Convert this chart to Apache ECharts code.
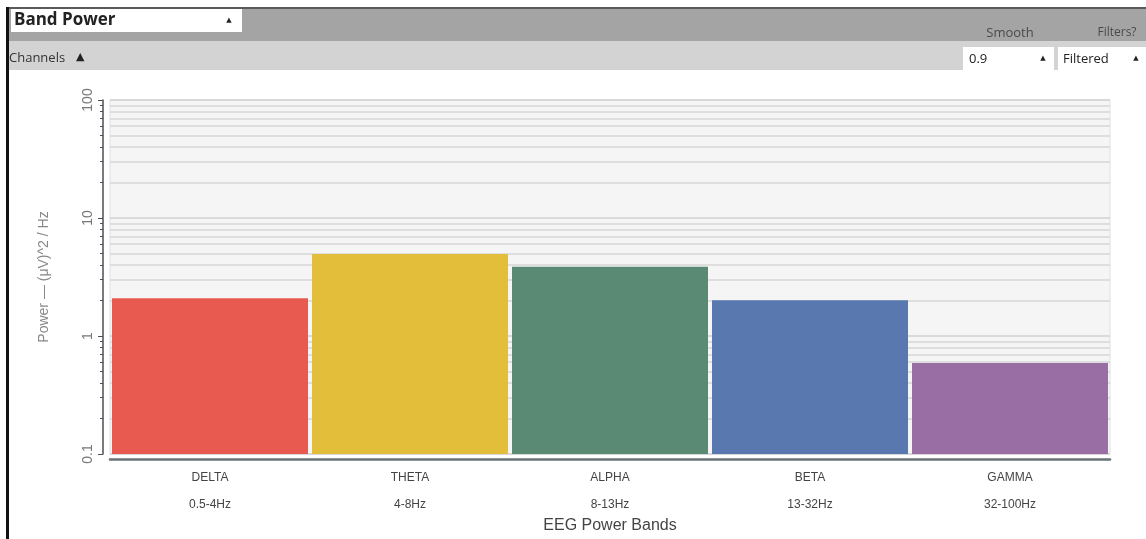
<!DOCTYPE html>
<html>
<head>
<meta charset="utf-8">
<script src="https://cdn.jsdelivr.net/npm/echarts@6/dist/echarts.min.js"></script>
<style>
html,body{margin:0;padding:0;background:#fff;}
#chart{width:1146px;height:539px;}
</style>
</head>
<body>
<div id="chart"></div>
<script>
const bandNames = ['DELTA', 'THETA', 'ALPHA', 'BETA', 'GAMMA'];
const bandRanges = ['0.5-4Hz', '4-8Hz', '8-13Hz', '13-32Hz', '32-100Hz'];
const bandPower = [2.09, 4.95, 3.87, 2.01, 0.59];
const bandColors = ['#e85a4f', '#e2be3b', '#5b8a74', '#5a78b0', '#986ea4'];
const axisMin = 0.1;
const axisMax = 100;

const chart = echarts.init(document.getElementById('chart'), null, {renderer: 'canvas'});
const font = '"Open Sans", "DejaVu Sans", sans-serif';
const labelFont = '"Liberation Sans", Arial, sans-serif';

chart.setOption({
  animation: false,
  backgroundColor: '#ffffff',
  graphic: [
    {type: 'rect', shape: {x: 6, y: 8, width: 1140, height: 33}, style: {fill: '#a4a4a4'}},
    {type: 'rect', shape: {x: 6, y: 7, width: 1140, height: 2}, style: {fill: '#5a5a5a'}},
    {type: 'rect', shape: {x: 6, y: 41, width: 1140, height: 29}, style: {fill: '#d3d3d3'}},
    {type: 'rect', shape: {x: 11, y: 9, width: 231, height: 23}, style: {fill: '#ffffff'}},
    {type: 'text', x: 14, y: 20, style: {text: 'Band Power', font: 'bold 17px ' + font, fill: '#222', verticalAlign: 'middle'}},
    {type: 'text', x: 229, y: 20, style: {text: '▲', font: '7px ' + font, fill: '#222', verticalAlign: 'middle', align: 'center'}},
    {type: 'text', x: 1010, y: 33, style: {text: 'Smooth', font: '13px ' + font, fill: '#4a4a4a', verticalAlign: 'middle', align: 'center'}},
    {type: 'text', x: 1117, y: 33, style: {text: 'Filters?', font: '12px ' + font, fill: '#4a4a4a', verticalAlign: 'middle', align: 'center'}},
    {type: 'text', x: 9, y: 58, style: {text: 'Channels', font: '13px ' + font, fill: '#333', verticalAlign: 'middle'}},
    {type: 'text', x: 76, y: 57, style: {text: '▲', font: '11px ' + font, fill: '#222', verticalAlign: 'middle'}},
    {type: 'rect', shape: {x: 963, y: 47, width: 91, height: 23}, style: {fill: '#ffffff'}},
    {type: 'text', x: 969, y: 59, style: {text: '0.9', font: '13px ' + font, fill: '#222', verticalAlign: 'middle'}},
    {type: 'text', x: 1043, y: 58, style: {text: '▲', font: '7px ' + font, fill: '#222', verticalAlign: 'middle', align: 'center'}},
    {type: 'rect', shape: {x: 1058, y: 47, width: 88, height: 23}, style: {fill: '#ffffff'}},
    {type: 'text', x: 1063, y: 59, style: {text: 'Filtered', font: '13px ' + font, fill: '#222', verticalAlign: 'middle'}},
    {type: 'text', x: 1136, y: 58, style: {text: '▲', font: '7px ' + font, fill: '#222', verticalAlign: 'middle', align: 'center'}},
    {type: 'rect', shape: {x: 6, y: 7, width: 3, height: 532}, style: {fill: '#111'}}
  ],
  grid: {
    left: 110, right: 36, top: 100, bottom: 81,
    show: true, backgroundColor: '#f5f5f5', borderColor: '#e0e0e0', borderWidth: 1
  },
  xAxis: {
    type: 'category',
    data: bandNames,
    offset: 5,
    axisLine: {lineStyle: {color: '#687378', width: 2.5}},
    axisTick: {show: false},
    splitLine: {show: false},
    axisLabel: {
      margin: 5,
      interval: 0,
      formatter: function (v, i) { return '{a|' + v + '}\n{b|' + bandRanges[i] + '}'; },
      rich: {
        a: {fontFamily: labelFont, fontSize: 12, color: '#444', lineHeight: 27},
        b: {fontFamily: labelFont, fontSize: 12, color: '#444', lineHeight: 27}
      }
    },
    name: 'EEG Power Bands',
    nameLocation: 'middle',
    nameGap: 59,
    nameTextStyle: {fontFamily: labelFont, fontSize: 16, color: '#444'}
  },
  yAxis: {
    type: 'log',
    logBase: 10,
    min: axisMin,
    max: axisMax,
    offset: 7,
    axisLine: {show: true, lineStyle: {color: '#4a4f55', width: 1.5}},
    axisTick: {show: true, length: 5, lineStyle: {color: '#4a4f55'}},
    minorTick: {show: true, splitNumber: 9, length: 3, lineStyle: {color: '#4a4f55'}},
    splitLine: {show: true, lineStyle: {color: '#d0d0d0', width: 1.5}},
    minorSplitLine: {show: true, lineStyle: {color: '#d6d6d6', width: 1.5}},
    axisLabel: {
      rotate: 90,
      margin: 8,
      fontFamily: labelFont,
      fontSize: 14,
      color: '#777',
      formatter: function (v) { return String(+v.toPrecision(3)); }
    },
    name: 'Power — (μV)^2 / Hz',
    nameLocation: 'middle',
    nameRotate: 90,
    nameGap: 52,
    nameTextStyle: {fontFamily: labelFont, fontSize: 14, color: '#888'}
  },
  series: [{
    type: 'custom',
    data: bandPower.map(function (v, i) { return [i, v]; }),
    encode: {x: 0, y: 1},
    renderItem: function (params, api) {
      const idx = api.value(0);
      const val = api.value(1);
      const top = api.coord([idx, val]);
      const bottom = api.coord([idx, axisMin]);
      const band = api.coord([1, axisMin])[0] - api.coord([0, axisMin])[0];
      const w = band * 0.98;
      return {
        type: 'rect',
        shape: {x: top[0] - w / 2, y: top[1], width: w, height: bottom[1] - top[1]},
        style: {fill: bandColors[idx]}
      };
    }
  }]
});
</script>
</body>
</html>
